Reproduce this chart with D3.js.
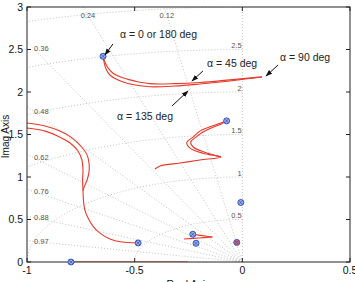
<!DOCTYPE html>
<html>
<head>
<meta charset="UTF-8">
<script src="https://cdn.jsdelivr.net/npm/d3@7"></script>
<style>
  body { margin: 0; background: #fff; }
  text { font-family: "Liberation Sans", Arial, sans-serif; }
</style>
</head>
<body>
<svg id="chart" width="355" height="282"></svg>
<script>
// axis ticks
const xTicks = [-1, -0.5, 0, 0.5];
const yTicks = [0, 0.5, 1, 1.5, 2, 2.5, 3];

// sgrid: damping ratios and natural frequencies
const zetas = [0.12, 0.24, 0.36, 0.48, 0.62, 0.76, 0.88, 0.97];
const zetaTop = [0.12, 0.24];                 // labelled on top edge
const zetaLeft = [0.36, 0.48, 0.62, 0.76, 0.88, 0.97];
const wns = [0.5, 1, 1.5, 2, 2.5, 3, 3.5];
const wnLabels = [0.5, 1, 1.5, 2, 2.5];

// root locus branches [re, im]
const branchA1 = [[-0.647,2.42],[-0.642,2.35],[-0.633,2.27],[-0.615,2.20],[-0.577,2.14],[-0.522,2.095],[-0.429,2.062],[-0.313,2.07],[-0.197,2.094],[-0.057,2.13],[0.091,2.176]];
const branchA2 = [[-0.647,2.42],[-0.637,2.345],[-0.621,2.275],[-0.597,2.215],[-0.559,2.17],[-0.498,2.128],[-0.429,2.098],[-0.313,2.098],[-0.197,2.112],[-0.057,2.143],[0.091,2.178]];
const branchB1 = [[-1,1.635],[-0.916,1.60],[-0.847,1.54],[-0.791,1.46],[-0.745,1.35],[-0.721,1.26],[-0.712,1.165],[-0.712,1.06],[-0.721,0.965],[-0.735,0.88],[-0.740,0.84]];
const branchB2 = [[-1,1.576],[-0.916,1.54],[-0.856,1.48],[-0.800,1.40],[-0.763,1.306],[-0.745,1.2],[-0.740,1.08],[-0.742,0.965],[-0.740,0.847],[-0.738,0.73],[-0.731,0.61],[-0.717,0.52],[-0.693,0.42],[-0.661,0.34],[-0.615,0.27],[-0.559,0.235],[-0.485,0.224]];
const branchC1 = [[-0.073,1.66],[-0.100,1.635],[-0.150,1.59],[-0.197,1.54],[-0.229,1.47],[-0.258,1.405],[-0.243,1.34],[-0.183,1.28],[-0.099,1.235],[-0.197,1.20],[-0.289,1.165],[-0.382,1.13],[-0.406,1.094]];
const branchC2 = [[-0.073,1.66],[-0.100,1.622],[-0.141,1.58],[-0.183,1.53],[-0.215,1.47],[-0.240,1.41],[-0.227,1.35],[-0.175,1.292],[-0.099,1.235]];
const branchD1 = [[-0.230,0.326],[-0.185,0.31],[-0.139,0.294]];
const branchD2 = [[-0.271,0.271],[-0.20,0.283],[-0.139,0.294]];
const realAxisSeg = [[-0.796,0],[-0.252,0]];
const branches = [branchA1, branchA2, branchB1, branchB2, branchC1, branchC2, branchD1, branchD2, realAxisSeg];

// poles / zeros markers
const markers = [[-0.647,2.42],[-0.484,0.224],[-0.073,1.66],[-0.230,0.326],[-0.215,0.22],[-0.007,0.70],[-0.026,0.23],[-0.796,0]];

// annotations: label, text anchor, arrow tail, arrow head (data coords)
const annoText = ["\u03b1 = 0 or 180 deg", "\u03b1 = 45 deg", "\u03b1 = 90 deg", "\u03b1 = 135 deg"];
const annoAt = [[-0.568,2.68],[-0.164,2.34],[0.175,2.41],[-0.582,1.718]];
const annoFrom = [[-0.601,2.565],[-0.183,2.247],[0.166,2.318],[-0.327,1.835]];
const annoTo = [[-0.638,2.435],[-0.234,2.129],[0.110,2.188],[-0.252,2.012]];

const margin = {left: 27, right: 5, top: 7, bottom: 20};
const W = 355, H = 282;
const svg = d3.select("#chart");
const x = d3.scaleLinear().domain([-1, 0.5]).range([margin.left, W - margin.right]);
const y = d3.scaleLinear().domain([0, 3]).range([H - margin.bottom, margin.top]);

svg.append("defs").append("clipPath").attr("id", "clip")
  .append("rect").attr("x", x(-1)).attr("y", y(3))
  .attr("width", x(0.5) - x(-1)).attr("height", y(0) - y(3));
svg.select("defs").append("marker").attr("id", "arr")
  .attr("viewBox", "0 0 10 10").attr("refX", 9).attr("refY", 5)
  .attr("markerWidth", 7).attr("markerHeight", 7).attr("orient", "auto")
  .append("path").attr("d", "M0,1.5L10,5L0,8.5z").attr("fill", "#111");

const grid = svg.append("g").attr("clip-path", "url(#clip)")
  .attr("fill", "none").attr("stroke", "#b4b4b4").attr("stroke-width", 0.8)
  .attr("stroke-dasharray", "1,2");

// damping lines (plus imag axis)
[0, ...zetas].forEach(z => {
  const r = 10, s = Math.sqrt(1 - z * z);
  grid.append("line")
    .attr("x1", x(0)).attr("y1", y(0))
    .attr("x2", x(-z * r)).attr("y2", y(s * r));
});
// natural frequency semicircles
wns.forEach(w => {
  const pts = d3.range(0, 91).map(i => {
    const a = Math.PI / 2 + i * Math.PI / 180;
    return [w * Math.cos(a), w * Math.sin(a)];
  });
  grid.append("path").attr("d", d3.line().x(d => x(d[0])).y(d => y(d[1]))(pts));
});

// grid labels
const gl = svg.append("g").attr("font-size", 7.5).attr("fill", "#555");
zetaLeft.forEach(z => {
  const s = Math.sqrt(1 - z * z);
  gl.append("text").attr("x", x(-0.967)).attr("y", y(0.97 * s / z))
    .attr("dy", "0.35em").text(z);
});
zetaTop.forEach(z => {
  const s = Math.sqrt(1 - z * z);
  gl.append("text").attr("x", x(-2.9 * z / s)).attr("y", y(2.9))
    .attr("dy", "0.35em").attr("text-anchor", "middle").text(z);
});
wnLabels.forEach(w => {
  gl.append("text").attr("x", x(-0.003)).attr("y", y(w + 0.045))
    .attr("dy", "0.35em").attr("text-anchor", "end").text(w);
});

// locus
const line = d3.line().x(d => x(d[0])).y(d => y(d[1])).curve(d3.curveCatmullRom);
const loc = svg.append("g").attr("clip-path", "url(#clip)");

// axes box + ticks
const ax = svg.append("g").attr("font-size", 10.5).attr("fill", "#111");
ax.append("rect").attr("x", x(-1)).attr("y", y(3))
  .attr("width", x(0.5) - x(-1)).attr("height", y(0) - y(3))
  .attr("fill", "none").attr("stroke", "#222").attr("stroke-width", 1);
const tl = 4;
xTicks.forEach(t => {
  ax.append("line").attr("x1", x(t)).attr("x2", x(t)).attr("y1", y(0)).attr("y2", y(0) - tl).attr("stroke", "#222");
  ax.append("line").attr("x1", x(t)).attr("x2", x(t)).attr("y1", y(3)).attr("y2", y(3) + tl).attr("stroke", "#222");
  ax.append("text").attr("x", x(t)).attr("y", y(0) + 12).attr("text-anchor", "middle").text(t);
});
yTicks.forEach(t => {
  ax.append("line").attr("y1", y(t)).attr("y2", y(t)).attr("x1", x(-1)).attr("x2", x(-1) + tl).attr("stroke", "#222");
  ax.append("line").attr("y1", y(t)).attr("y2", y(t)).attr("x1", x(0.5)).attr("x2", x(0.5) - tl).attr("stroke", "#222");
  ax.append("text").attr("x", x(-1) - 4).attr("y", y(t)).attr("dy", "0.35em").attr("text-anchor", "end").text(t);
});
ax.append("text").attr("x", (x(-1) + x(0.5)) / 2).attr("y", H + 6).attr("text-anchor", "middle").text("Real Axis");
ax.append("text").attr("transform", `translate(8.5,${(y(0) + y(3)) / 2 + 2}) rotate(-90)`)
  .attr("text-anchor", "middle").attr("font-size", 10).text("Imag Axis");

branches.forEach(b => {
  loc.append("path").attr("d", line(b)).attr("fill", "none")
    .attr("stroke", "#e6392b").attr("stroke-width", 1.1);
});

// markers
const mk = svg.append("g");
markers.forEach((m, i) => {
  const cx = x(m[0]), cy = y(m[1]), r = 3;
  mk.append("circle").attr("cx", cx).attr("cy", cy).attr("r", r)
    .attr("fill", i === 6 ? "#d8606a" : "#9fb0e4").attr("stroke", "#3556c0").attr("stroke-width", 1);
  mk.append("path").attr("d", `M${cx-2},${cy-2}L${cx+2},${cy+2}M${cx-2},${cy+2}L${cx+2},${cy-2}`)
    .attr("stroke", "#3556c0").attr("stroke-width", 0.8);
});

// annotations
const an = svg.append("g").attr("font-size", 10.5).attr("fill", "#222");
annoText.forEach((t, i) => {
  an.append("text").attr("x", x(annoAt[i][0])).attr("y", y(annoAt[i][1]))
    .attr("dy", "0.35em").text(t);
  an.append("line").attr("x1", x(annoFrom[i][0])).attr("y1", y(annoFrom[i][1]))
    .attr("x2", x(annoTo[i][0])).attr("y2", y(annoTo[i][1]))
    .attr("stroke", "#111").attr("stroke-width", 1).attr("marker-end", "url(#arr)");
});
</script>
</body>
</html>
